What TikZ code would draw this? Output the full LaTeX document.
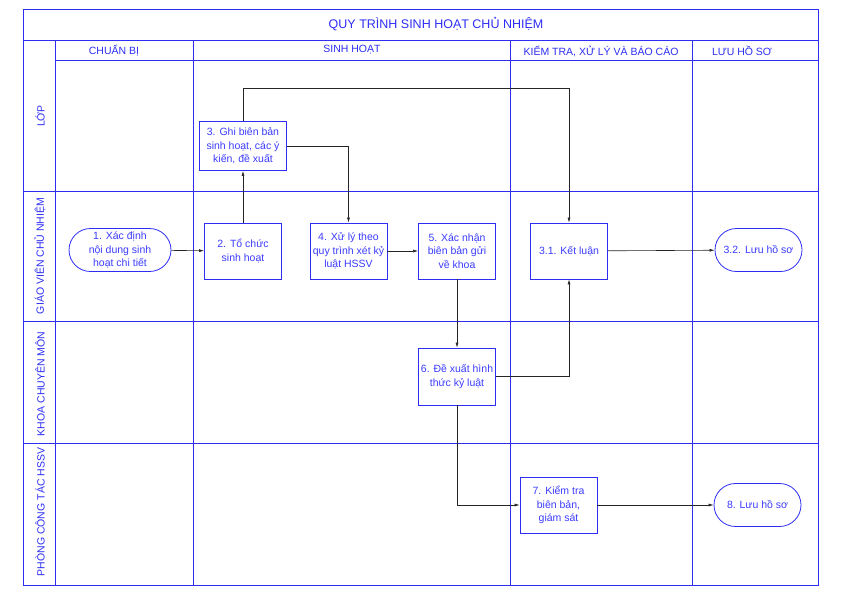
\documentclass[tikz,border=0pt]{standalone}
\usepackage{fontspec}
\setmainfont{Liberation Sans}
\usetikzlibrary{arrows.meta,shapes.misc}
\definecolor{laneblue}{RGB}{45,45,245}
\definecolor{textblue}{RGB}{60,60,255}
\tikzset{
  grid/.style={draw=laneblue, line width=0.9pt},
  stepbox/.style={draw=laneblue, line width=0.8pt, fill=white, text=textblue,
    minimum width=77pt, minimum height=56pt, align=center, inner sep=1pt,
    font=\fontsize{10.5}{13.5}\selectfont},
  endbox/.style={stepbox, rounded rectangle, minimum width=89pt, minimum height=43pt},
  flow/.style={draw=black!85, line width=0.6pt, -{Latex[length=5pt,width=3pt]}},
  head/.style={text=laneblue, font=\fontsize{10.5}{12}\selectfont},
}
\begin{document}
\begin{tikzpicture}[x=1pt, y=-1pt]
  \useasboundingbox (0,0) rectangle (842,595);
  % Frame and swimlane grid.
  \draw[grid] (23,9) rectangle (818,585);
  \draw[grid] (23,40) -- (818,40);
  \draw[grid] (55,60) -- (818,60);
  \draw[grid] (23,191) -- (818,191) (23,321) -- (818,321) (23,443) -- (818,443);
  \foreach \x in {55,193,510,692}
    \draw[grid] (\x,40) -- (\x,585);
  % Title and column headings.
  \node[head, font=\fontsize{12.5}{14}\selectfont] (title) at (436,24) {QUY TRÌNH SINH HOẠT CHỦ NHIỆM};
  \node[head] (colprep) at (114,51) {CHUẨN BỊ};
  \node[head] (colmeet) at (352,50) {SINH HOẠT};
  \node[head] (colcheck) at (601,51) {KIỂM TRA, XỬ LÝ VÀ BÁO CÁO};
  \node[head] (colfile) at (742,51) {LƯU HỒ SƠ};
  % Lane labels.
  \node[head, rotate=90] (laneclass) at (40,116) {LỚP};
  \node[head, rotate=90] (laneteacher) at (40,256) {GIÁO VIÊN CHỦ NHIỆM};
  \node[head, rotate=90] (lanefaculty) at (40,384) {KHOA CHUYÊN MÔN};
  \node[head, rotate=90] (laneoffice) at (40,512) {PHÒNG CÔNG TÁC HSSV};
  % Steps.
  \node[endbox, minimum width=104pt] (n1) at (120,250) {1. Xác định\\nội dung sinh\\hoạt chi tiết};
  \node[stepbox] (n2) at (243,251) {2. Tổ chức\\sinh hoạt};
  \node[stepbox, minimum width=87pt, minimum height=49pt] (n3) at (243,146) {3. Ghi biên bản\\sinh hoạt, các ý\\kiến, đề xuất};
  \node[stepbox] (n4) at (348.5,251) {4. Xử lý theo\\quy trình xét kỷ\\luật HSSV};
  \node[stepbox] (n5) at (457,251) {5. Xác nhận\\biên bản gửi\\về khoa};
  \node[stepbox] (n31) at (569,251) {3.1. Kết luận};
  \node[endbox] (n32) at (758.5,250) {3.2. Lưu hồ sơ};
  \node[stepbox, minimum height=57pt] (n6) at (457,376.5) {6. Đề xuất hình\\thức kỷ luật};
  \node[stepbox] (n7) at (558.5,505) {7. Kiểm tra\\biên bản,\\giám sát};
  \node[endbox] (n8) at (757.5,505) {8. Lưu hồ sơ};
  % Connectors.
  \coordinate (top) at (243,88);
  \draw[flow] (n1) -- (n2);
  \draw[flow] (n2) -- (n3);
  \draw[flow] (n3.north) -- (top) -| (n31.north);
  \draw[flow] (n3.east) -| (n4.north);
  \draw[flow] (n4) -- (n5);
  \draw[flow] (n5) -- (n6);
  \draw[flow] (n6.east) -| (n31.south);
  \draw[flow] (n31) -- (n32);
  \draw[flow] (n6.south) |- (n7.west);
  \draw[flow] (n7) -- (n8);
\end{tikzpicture}
\end{document}
